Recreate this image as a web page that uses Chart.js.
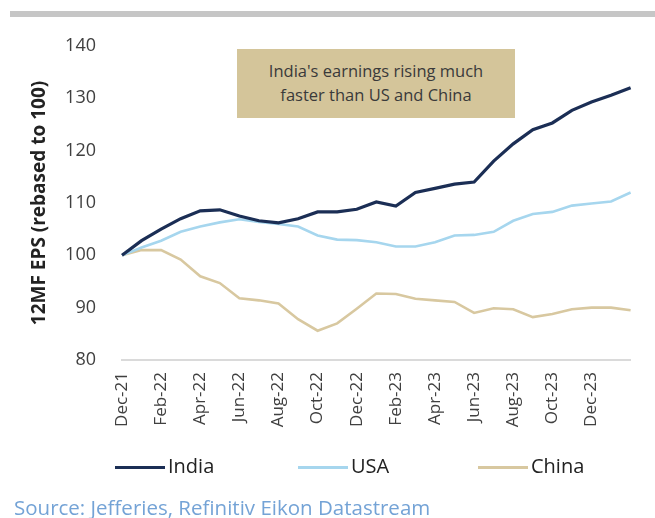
<!DOCTYPE html>
<html>
<head>
<meta charset="utf-8">
<script src="https://cdn.jsdelivr.net/npm/chart.js@4/dist/chart.umd.min.js"></script>
<style>
	body { margin: 0; background: #fff; }
	#wrap { position: relative; width: 655px; height: 518px; overflow: hidden; font-family: "Open Sans", sans-serif; }
	#topBar { position: absolute; left: 10px; top: 11px; width: 645px; height: 6px; background: #c6c6c6; }
	#note { position: absolute; left: 237px; top: 49px; width: 278px; height: 69px; background: #d4c59a;
		color: #3a3a3a; font-size: 16.5px; line-height: 24px; text-align: center; box-sizing: border-box; padding-top: 10px; }
	#legend { position: absolute; top: 452px; left: 0; width: 655px; height: 28px; }
	.legItem { position: absolute; top: 0; font-size: 20px; color: #222; line-height: 28px; }
	.legLine { display: inline-block; width: 50px; height: 3px; vertical-align: middle; margin-right: 3px; }
	#source { position: absolute; left: 14px; top: 493px; font-size: 20.5px; line-height: 28px; color: #74a3d6; }
	canvas { position: absolute; left: 0; top: 0; }
</style>
</head>
<body>
<div id="wrap">
	<div id="topBar"></div>
	<canvas id="chart" width="655" height="518"></canvas>
	<div id="note">India's earnings rising much<br>faster than US and China</div>
	<div id="legend"></div>
	<div id="source">Source: Jefferies, Refinitiv Eikon Datastream</div>
</div>
<script>
const months = ['Dec-21', 'Jan-22', 'Feb-22', 'Mar-22', 'Apr-22', 'May-22', 'Jun-22', 'Jul-22', 'Aug-22',
	'Sep-22', 'Oct-22', 'Nov-22', 'Dec-22', 'Jan-23', 'Feb-23', 'Mar-23', 'Apr-23', 'May-23', 'Jun-23',
	'Jul-23', 'Aug-23', 'Sep-23', 'Oct-23', 'Nov-23', 'Dec-23', 'Jan-24', 'Feb-24'];

const india = [100, 102.8, 105, 107, 108.5, 108.7, 107.5, 106.6, 106.2, 107, 108.3, 108.3, 108.8,
	110.2, 109.4, 112, 112.8, 113.6, 114, 118, 121.3, 124, 125.3, 127.7, 129.3, 130.6, 132];
const usa = [100, 101.5, 102.8, 104.5, 105.5, 106.3, 106.9, 106.4, 106, 105.5, 103.8, 103, 102.9,
	102.5, 101.7, 101.7, 102.5, 103.8, 103.9, 104.5, 106.6, 107.9, 108.3, 109.5, 109.9, 110.3, 112];
const china = [100, 101, 101, 99.2, 96, 94.7, 91.8, 91.4, 90.8, 87.8, 85.6, 87, 89.8,
	92.7, 92.6, 91.7, 91.4, 91.1, 89, 89.9, 89.7, 88.2, 88.8, 89.7, 90, 90, 89.5];

const yTicks = [80, 90, 100, 110, 120, 130, 140];

const seriesInfo = [
	{ label: 'India', data: india, color: '#1b2e55', width: 3.2, legendLeft: 115 },
	{ label: 'USA', data: usa, color: '#a6d6ee', width: 2.6, legendLeft: 298 },
	{ label: 'China', data: china, color: '#d8c8a0', width: 2.6, legendLeft: 478 }
];

// легенда вручную, чтобы расставить элементы как в оригинале
let legendElement = document.getElementById('legend');
seriesInfo.forEach(s => {
	let item = document.createElement('div');
	item.className = 'legItem';
	item.style.left = s.legendLeft + 'px';
	item.innerHTML = `<span class="legLine" style="background:${s.color}"></span>${s.label}`;
	legendElement.appendChild(item);
});

const ctx = document.getElementById('chart');

new Chart(ctx, {
	type: 'line',
	data: {
		labels: months,
		datasets: seriesInfo.map(s => ({
			label: s.label,
			data: s.data,
			borderColor: s.color,
			backgroundColor: s.color,
			borderWidth: s.width,
			pointRadius: 0,
			tension: 0,
			fill: false
		}))
	},
	options: {
		responsive: false,
		animation: false,
		layout: {
			padding: { top: 46, right: 17, bottom: 78, left: 0 }
		},
		plugins: {
			legend: { display: false },
			tooltip: { enabled: false }
		},
		scales: {
			x: {
				afterFit: (scale) => { scale.height = 80; },
				grid: { display: false },
				border: { display: true, color: '#dadada', width: 2 },
				ticks: {
					autoSkip: false,
					maxRotation: 90,
					minRotation: 90,
					padding: 4,
					color: '#404040',
					font: { family: 'Open Sans', size: 17 },
					callback: (value, index) => (index % 2 === 0 && index <= 24) ? months[index] : ''
				}
			},
			y: {
				min: 80,
				max: 140,
				afterFit: (scale) => { scale.width = 122; },
				afterBuildTicks: (scale) => { scale.ticks = yTicks.map(v => ({ value: v })); },
				grid: { display: false, drawTicks: false },
				border: { display: false },
				ticks: {
					padding: 26,
					color: '#404040',
					font: { family: 'Open Sans', size: 18 }
				},
				title: {
					display: true,
					text: '12MF EPS (rebased to 100)',
					color: '#222',
					padding: { top: 28 },
					font: { family: 'Open Sans', size: 19, weight: 'bold' }
				}
			}
		}
	}
});
</script>
</body>
</html>
